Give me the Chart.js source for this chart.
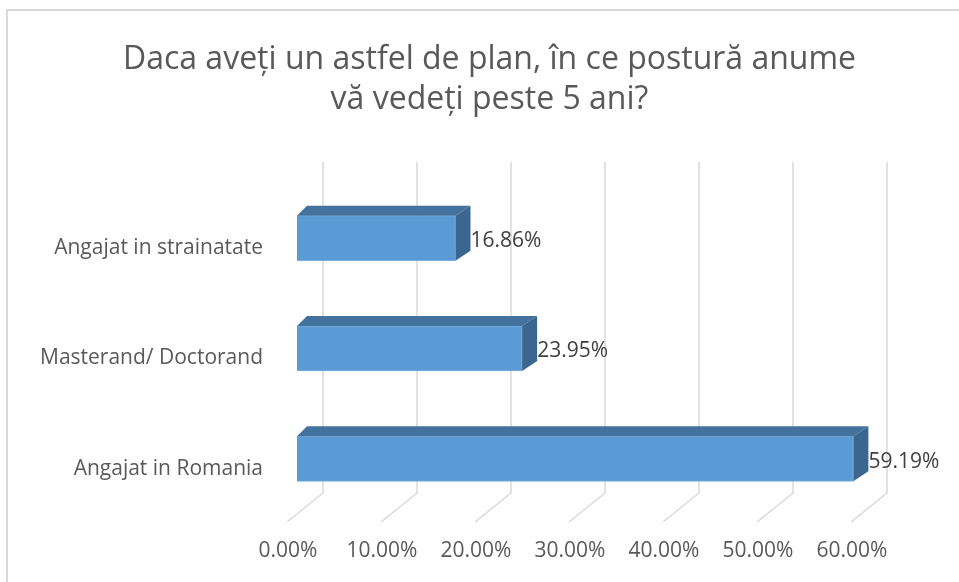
<!DOCTYPE html>
<html lang="ro">
<head>
    <meta charset="UTF-8">
    <title>Postura peste 5 ani</title>
    <script src="https://cdn.jsdelivr.net/npm/chart.js"></script>
    <style>
        body { margin: 0; background: #fff; }
        #frame {
            position: absolute; left: 6px; top: 9px; width: 1000px; height: 600px;
            border-left: 2px solid #d9d9d9; border-top: 2px solid #d9d9d9;
        }
        #postureChart { position: absolute; left: 0; top: 0; }
    </style>
</head>
<body>
    <div id="frame"></div>
    <canvas id="postureChart" width="959" height="582"></canvas>

    <script>
        // data
        const categories = ['Angajat in strainatate', 'Masterand/ Doctorand', 'Angajat in Romania'];
        const shares = [16.86, 23.95, 59.19];
        const axisMin = 0;
        const axisMax = 60;
        const axisStep = 10;

        const FONT = "'Open Sans', sans-serif";

        // 3D look: bar depth and the floor/back wall offsets
        const depth = { left: 10, right: 15, up: 10 };
        const floor = { frontX: -10, frontY: 8, backX: 26, backY: -21, wallTop: 162 };

        const grid3d = {
            id: 'grid3d',
            beforeDatasetsDraw(chart) {
                const ctx = chart.ctx;
                const xs = chart.scales.x;
                const bottom = chart.chartArea.bottom;
                ctx.save();
                ctx.strokeStyle = '#d9d9d9';
                ctx.lineWidth = 1.5;
                xs.ticks.forEach(t => {
                    const px = xs.getPixelForValue(t.value);
                    ctx.beginPath();
                    ctx.moveTo(px + floor.frontX, bottom + floor.frontY);
                    ctx.lineTo(px + floor.backX, bottom + floor.backY);
                    ctx.lineTo(px + floor.backX, floor.wallTop);
                    ctx.stroke();
                });
                ctx.restore();
            }
        };

        const bar3d = {
            id: 'bar3d',
            afterDatasetsDraw(chart) {
                const ctx = chart.ctx;
                const meta = chart.getDatasetMeta(0);
                ctx.save();
                meta.data.forEach((bar, i) => {
                    const L = bar.base, R = bar.x;
                    const T = bar.y - bar.height / 2, B = bar.y + bar.height / 2;
                    // top face
                    ctx.fillStyle = '#44729e';
                    ctx.beginPath();
                    ctx.moveTo(L, T);
                    ctx.lineTo(L + depth.left, T - depth.up);
                    ctx.lineTo(R + depth.right, T - depth.up);
                    ctx.lineTo(R, T);
                    ctx.closePath();
                    ctx.fill();
                    // side face
                    ctx.fillStyle = '#3a6690';
                    ctx.beginPath();
                    ctx.moveTo(R, T);
                    ctx.lineTo(R + depth.right, T - depth.up);
                    ctx.lineTo(R + depth.right, B - depth.up);
                    ctx.lineTo(R, B);
                    ctx.closePath();
                    ctx.fill();
                    // value label
                    ctx.fillStyle = '#404040';
                    ctx.font = "21px " + FONT;
                    ctx.textAlign = 'left';
                    ctx.textBaseline = 'middle';
                    ctx.fillText(shares[i].toFixed(2) + '%', R + depth.right, bar.y + 3);
                });
                ctx.restore();
            }
        };

        new Chart(document.getElementById('postureChart'), {
            type: 'bar',
            data: {
                labels: categories,
                datasets: [{
                    data: shares,
                    backgroundColor: '#5b9bd5',
                    borderColor: '#7aaede',
                    borderWidth: 1,
                    barThickness: 45
                }]
            },
            options: {
                indexAxis: 'y',
                responsive: false,
                animation: false,
                devicePixelRatio: 1,
                layout: { padding: { left: 20, right: 0, top: 0, bottom: 0 } },
                plugins: {
                    legend: { display: false },
                    tooltip: { enabled: false },
                    title: {
                        display: true,
                        text: ['Daca aveți un astfel de plan, în ce postură anume', 'vă vedeți peste 5 ani?'],
                        color: '#595959',
                        font: { family: FONT, size: 32, weight: 'normal', lineHeight: 1.25 },
                        padding: { top: 40, bottom: 63 }
                    }
                },
                scales: {
                    x: {
                        min: axisMin,
                        max: axisMax,
                        grid: { display: false, drawTicks: false },
                        border: { display: false },
                        ticks: {
                            stepSize: axisStep,
                            padding: 24,
                            labelOffset: -9,
                            color: '#595959',
                            font: { family: FONT, size: 21 },
                            callback: v => v.toFixed(2) + '%'
                        },
                        afterFit: s => { s.height = 68; }
                    },
                    y: {
                        grid: { display: false, drawTicks: false },
                        border: { display: false },
                        ticks: {
                            padding: 34,
                            labelOffset: 10,
                            color: '#595959',
                            font: { family: FONT, size: 21 }
                        },
                        afterFit: s => { s.width = 277; }
                    },
                    // empty right-hand axis that only keeps room for the value labels
                    yRight: {
                        type: 'category',
                        position: 'right',
                        grid: { display: false, drawTicks: false },
                        border: { display: false },
                        ticks: { display: false },
                        afterFit: s => { s.width = 98; }
                    }
                }
            },
            plugins: [grid3d, bar3d]
        });
    </script>
</body>
</html>
